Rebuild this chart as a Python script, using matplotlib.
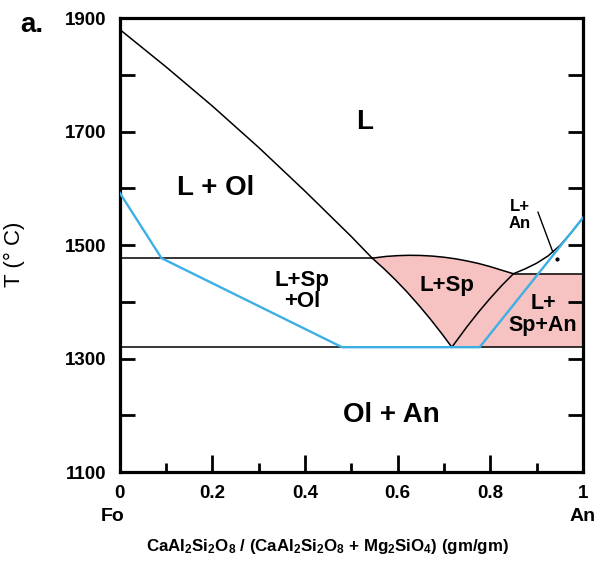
import numpy as np
import matplotlib
matplotlib.use("Agg")
import matplotlib.pyplot as plt

plt.rcParams['font.family'] = ['Liberation Sans', 'DejaVu Sans']
plt.rcParams['mathtext.fontset'] = 'custom'
plt.rcParams['mathtext.bf'] = 'Liberation Sans:bold'
plt.rcParams['mathtext.rm'] = 'Liberation Sans:bold'
plt.rcParams['mathtext.default'] = 'bf'

# phase boundaries (x = An fraction, T in C)
fo_liq_x = [0, 0.1, 0.2, 0.3, 0.4, 0.5, 0.545]
fo_liq_T = [1880, 1814, 1745, 1672, 1595, 1515, 1477]

sp_liq_x = [0.545, 0.575, 0.6, 0.625, 0.65, 0.675, 0.7, 0.725, 0.75, 0.775, 0.8, 0.825, 0.85]
sp_liq_T = [1477, 1480, 1481.4, 1482, 1481.7, 1480.6, 1478.6, 1475.8, 1472, 1467.5, 1462, 1455.7, 1449.5]

sp_left_x = [0.545, 0.57, 0.595, 0.62, 0.645, 0.67, 0.695, 0.717]
sp_left_T = [1477, 1458.7, 1438.9, 1417.6, 1394.6, 1370.2, 1344.2, 1320]

an_liq_x = [0.717, 0.75, 0.775, 0.8, 0.825, 0.85, 0.875, 0.9, 0.925, 0.95, 0.975, 1.0]
an_liq_T = [1320, 1356.5, 1382.3, 1406.4, 1428.9, 1449.5, 1458, 1468, 1481, 1499, 1522, 1548]

blue_x = [0, 0.09, 0.48, 0.777, 1.0]
blue_T = [1592, 1477, 1320, 1320, 1548]

T_peritectic = 1477
T_sp_an = 1449.5
T_solidus = 1320

yticks = list(range(1100, 1901, 100))
ytick_labels = ['1100', '', '1300', '', '1500', '', '1700', '', '1900']
xticks = [0, 0.2, 0.4, 0.6, 0.8, 1.0]
xtick_labels = ['0', '0.2', '0.4', '0.6', '0.8', '1']

pink = '#f7c2c2'
blue = '#3cb0e4'

fig = plt.figure(figsize=(5.96, 5.67), dpi=100)
ax = fig.add_axes([0.201, 0.1675, 0.777, 0.8005])

# pink fields (L+Sp and L+Sp+An)
poly_x = sp_liq_x + [1.0, 1.0, 0.717] + sp_left_x[::-1]
poly_T = sp_liq_T + [T_sp_an, T_solidus, T_solidus] + sp_left_T[::-1]
ax.fill(poly_x, poly_T, color=pink, lw=0, zorder=1)

lw = 1.1
ax.plot(fo_liq_x, fo_liq_T, color='black', lw=lw, zorder=2)
ax.plot(sp_liq_x, sp_liq_T, color='black', lw=lw, zorder=2)
ax.plot(sp_left_x, sp_left_T, color='black', lw=lw, zorder=2)
ax.plot(an_liq_x, an_liq_T, color='black', lw=lw, zorder=2)
ax.plot([0, 0.545], [T_peritectic, T_peritectic], color='black', lw=lw, zorder=2)
ax.plot([0.85, 1.0], [T_sp_an, T_sp_an], color='black', lw=lw, zorder=2)
ax.plot([0, 1.0], [T_solidus, T_solidus], color='black', lw=lw, zorder=2)

ax.plot(blue_x, blue_T, color=blue, lw=1.7, zorder=3)

# pointer for the small L+An field
ax.plot([0.903, 0.935], [1558, 1488], color='black', lw=1.0, zorder=4)
ax.plot([0.944], [1475], 'o', color='black', ms=2, zorder=4)

# field labels
ax.text(0.529, 1717, 'L', fontsize=20, fontweight='bold', ha='center', va='center')
ax.text(0.207, 1600, 'L + Ol', fontsize=20, fontweight='bold', ha='center', va='center')
ax.text(0.587, 1200, 'Ol + An', fontsize=20, fontweight='bold', ha='center', va='center')
ax.text(0.393, 1419, 'L+Sp\n+Ol', fontsize=16, fontweight='bold', ha='center', va='center', linespacing=1.05)
ax.text(0.706, 1428, 'L+Sp', fontsize=16, fontweight='bold', ha='center', va='center')
ax.text(0.914, 1378, 'L+\nSp+An', fontsize=15.5, fontweight='bold', ha='center', va='center', linespacing=1.05)
ax.text(0.864, 1553, 'L+\nAn', fontsize=12, fontweight='bold', ha='center', va='center', linespacing=1.1)

ax.set_xlim(0, 1)
ax.set_ylim(1100, 1900)
ax.set_yticks(yticks)
ax.set_yticklabels(ytick_labels, fontsize=13.5, fontweight='bold')
ax.set_xticks(xticks)
ax.set_xticklabels(xtick_labels, fontsize=13.5, fontweight='bold')
ax.set_xticks(np.arange(0.1, 1.0, 0.2), minor=True)

ax.tick_params(axis='y', which='major', direction='in', left=True, right=True,
               length=11, width=2, pad=10)
ax.tick_params(axis='x', which='major', direction='in', top=False,
               length=12, width=2, pad=9)
ax.tick_params(axis='x', which='minor', direction='in', top=False,
               length=6.5, width=2)
for s in ax.spines.values():
    s.set_linewidth(2.3)

ax.set_ylabel('T (° C)', fontsize=16)
ax.yaxis.set_label_coords(-0.205, 0.48)
ax.set_xlabel('CaAl$_2$Si$_2$O$_8$ / (CaAl$_2$Si$_2$O$_8$ + Mg$_2$SiO$_4$) (gm/gm)',
              fontsize=12.2, fontweight='bold')
ax.xaxis.set_label_coords(0.449, -0.143)

trans = ax.get_xaxis_transform()
ax.text(-0.015, -0.097, 'Fo', transform=trans, fontsize=14, fontweight='bold',
        ha='center', va='center')
ax.text(1.0, -0.097, 'An', transform=trans, fontsize=14, fontweight='bold',
        ha='center', va='center')

fig.text(0.034, 1 - 32 / 567, 'a.', fontsize=20, fontweight='bold', ha='left', va='baseline')

fig.savefig('out.png', dpi=100)
